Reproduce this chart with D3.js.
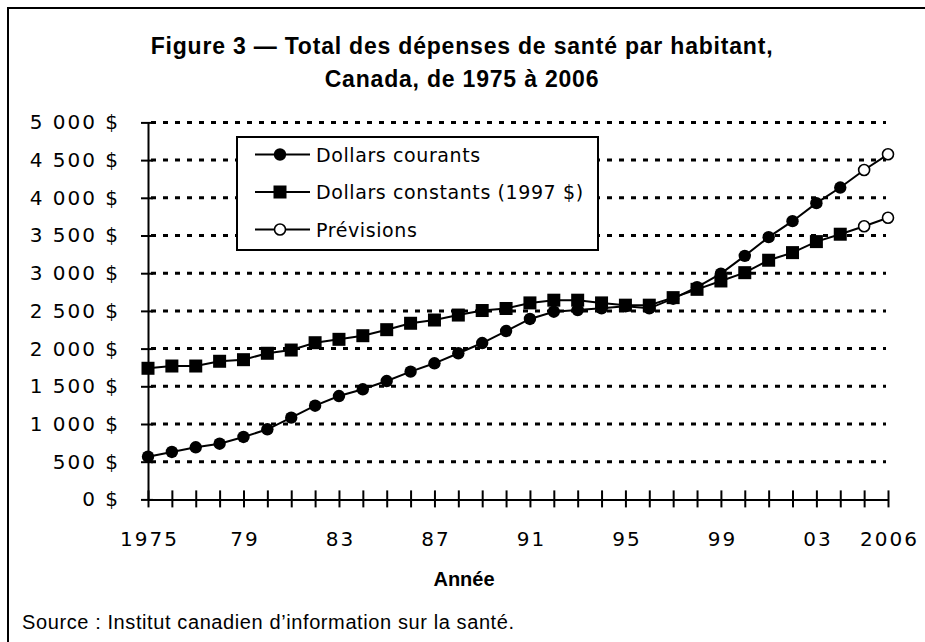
<!DOCTYPE html>
<html>
<head>
<meta charset="utf-8">
<script src="https://cdn.jsdelivr.net/npm/d3@7"></script>
<style>
  body { margin: 0; background: #fff; }
  .tickLabel { font-family: "DejaVu Sans", sans-serif; font-size: 20px; letter-spacing: 2px; fill: #000; }
  .legendText { font-family: "DejaVu Sans", sans-serif; font-size: 19px; letter-spacing: 0.6px; fill: #000; }
</style>
</head>
<body>
<svg id="chart" width="925" height="642"></svg>
<script>
// values
var years = [1975, 1976, 1977, 1978, 1979, 1980, 1981, 1982, 1983, 1984, 1985, 1986, 1987, 1988, 1989, 1990,
             1991, 1992, 1993, 1994, 1995, 1996, 1997, 1998, 1999, 2000, 2001, 2002, 2003, 2004, 2005, 2006];
var dollarsCourants = [566, 629, 691, 739, 828, 930, 1084, 1243, 1371, 1460, 1570, 1694, 1805, 1938, 2074, 2233,
                       2393, 2489, 2512, 2534, 2560, 2534, 2662, 2815, 2995, 3230, 3478, 3690, 3929, 4136, 4369, 4577];
var dollarsConstants = [1739, 1769, 1769, 1832, 1853, 1938, 1981, 2078, 2123, 2171, 2251, 2336, 2379, 2445, 2505, 2532,
                        2606, 2642, 2642, 2606, 2576, 2576, 2676, 2786, 2897, 3007, 3172, 3273, 3419, 3517, 3623, 3736];
var forecastYears = [2005, 2006];

var yTickValues = [0, 500, 1000, 1500, 2000, 2500, 3000, 3500, 4000, 4500, 5000];
var yTickLabels = ['0 $', '500 $', '1 000 $', '1 500 $', '2 000 $', '2 500 $', '3 000 $', '3 500 $', '4 000 $', '4 500 $', '5 000 $'];
var xLabelYears = [1975, 1979, 1983, 1987, 1991, 1995, 1999, 2003, 2006];
var xLabels = ['1975', '79', '83', '87', '91', '95', '99', '03', '2006'];

var legendLabels = ['Dollars courants', 'Dollars constants (1997 $)', 'Prévisions'];
var titleLines = ['Figure 3 \u2014 Total des dépenses de santé par habitant,', 'Canada, de 1975 à 2006'];

var svg = d3.select('#chart');

// outer frame (runs off the right/bottom of the picture)
svg.append('rect')
  .attr('x', 8).attr('y', 8)
  .attr('width', 1000).attr('height', 800)
  .style('fill', 'none').style('stroke', '#000').style('stroke-width', 2);

var x = d3.scaleLinear().domain([1975, 2006]).range([148, 888]);
var y = d3.scaleLinear().domain([0, 5000]).range([499.4, 122.4]);

// title
svg.selectAll('text.title')
  .data(titleLines)
  .enter().append('text')
    .attr('class', 'title')
    .attr('x', 462)
    .attr('y', function(d, i) { return 54 + i * 33; })
    .attr('text-anchor', 'middle')
    .style('font-family', '"Liberation Sans", Arial, sans-serif')
    .style('font-size', '23px')
    .style('font-weight', 'bold')
    .style('letter-spacing', '0.8px')
    .text(function(d) { return d; });

// dotted gridlines
svg.append('g').attr('id', 'grid')
  .selectAll('line')
  .data(yTickValues.filter(function(v) { return v > 0; }))
  .enter().append('line')
    .attr('x1', 151).attr('x2', 886)
    .attr('y1', function(d) { return y(d); })
    .attr('y2', function(d) { return y(d); })
    .style('stroke', '#000')
    .style('stroke-width', 3)
    .style('stroke-dasharray', '5,7');

// y axis
var yAxis = svg.append('g')
  .attr('transform', 'translate(148,0)')
  .call(d3.axisLeft(y)
    .tickValues(yTickValues)
    .tickSize(0)
    .tickPadding(28)
    .tickFormat(function(d, i) { return yTickLabels[i]; }));
yAxis.select('.domain').style('stroke', '#000').style('stroke-width', 2);
yAxis.selectAll('.tick line').attr('x1', 5).attr('x2', -7).style('stroke', '#000').style('stroke-width', 2);
yAxis.selectAll('.tick text').attr('class', 'tickLabel');
yAxis.attr('font-size', null).attr('font-family', null);

// x axis
var xAxis = svg.append('g')
  .attr('transform', 'translate(0,' + y(0) + ')')
  .call(d3.axisBottom(x)
    .tickValues(years)
    .tickSize(0)
    .tickSizeOuter(0)
    .tickFormat(function(d) {
      var k = xLabelYears.indexOf(d);
      return k < 0 ? '' : xLabels[k];
    }));
xAxis.select('.domain').style('stroke', '#000').style('stroke-width', 2);
xAxis.selectAll('.tick line').attr('y1', -9).attr('y2', 8).style('stroke', '#000').style('stroke-width', 2);
xAxis.selectAll('.tick text').attr('class', 'tickLabel').attr('y', 32).attr('dx', '1px');
xAxis.attr('font-size', null).attr('font-family', null);

// axis title
svg.append('text')
  .attr('x', 464).attr('y', 586)
  .attr('text-anchor', 'middle')
  .style('font-family', '"Liberation Sans", Arial, sans-serif')
  .style('font-size', '20px')
  .style('font-weight', 'bold')
  .text('Année');

// source note
svg.append('text')
  .attr('x', 22).attr('y', 629)
  .style('font-family', '"Liberation Sans", Arial, sans-serif')
  .style('font-size', '20px')
  .style('letter-spacing', '0.6px')
  .text('Source : Institut canadien d\u2019information sur la santé.');

// series
var line = d3.line()
  .x(function(d) { return x(d[0]); })
  .y(function(d) { return y(d[1]); });

var courants = years.map(function(yr, i) { return [yr, dollarsCourants[i]]; });
var constants = years.map(function(yr, i) { return [yr, dollarsConstants[i]]; });

var plot = svg.append('g').attr('id', 'plot');
[courants, constants].forEach(function(series) {
  plot.append('path')
    .attr('d', line(series))
    .style('fill', 'none')
    .style('stroke', '#000')
    .style('stroke-width', 2);
});

function isForecast(d) { return forecastYears.indexOf(d[0]) >= 0; }

plot.selectAll('rect.sq')
  .data(constants.filter(function(d) { return !isForecast(d); }))
  .enter().append('rect')
    .attr('class', 'sq')
    .attr('x', function(d) { return x(d[0]) - 6.5; })
    .attr('y', function(d) { return y(d[1]) - 6.5; })
    .attr('width', 13).attr('height', 13)
    .style('fill', '#000');

plot.selectAll('circle.dot')
  .data(courants.filter(function(d) { return !isForecast(d); }))
  .enter().append('circle')
    .attr('class', 'dot')
    .attr('cx', function(d) { return x(d[0]); })
    .attr('cy', function(d) { return y(d[1]); })
    .attr('r', 6.2)
    .style('fill', '#000');

plot.selectAll('circle.open')
  .data(courants.concat(constants).filter(isForecast))
  .enter().append('circle')
    .attr('class', 'open')
    .attr('cx', function(d) { return x(d[0]); })
    .attr('cy', function(d) { return y(d[1]); })
    .attr('r', 5.5)
    .style('fill', '#fff')
    .style('stroke', '#000')
    .style('stroke-width', 1.6);

// legend
var legend = svg.append('g').attr('id', 'legend');
legend.append('rect')
  .attr('x', 237).attr('y', 137)
  .attr('width', 361).attr('height', 113)
  .style('fill', '#fff')
  .style('stroke', '#000')
  .style('stroke-width', 2);

var rowY = [154.5, 192, 229.5];
legendLabels.forEach(function(label, i) {
  var g = legend.append('g');
  g.append('line')
    .attr('x1', 255).attr('x2', 310)
    .attr('y1', rowY[i]).attr('y2', rowY[i])
    .style('stroke', '#000').style('stroke-width', 2);
  if (i == 0) {
    g.append('circle').attr('cx', 280).attr('cy', rowY[i]).attr('r', 6.2).style('fill', '#000');
  } else if (i == 1) {
    g.append('rect').attr('x', 273.5).attr('y', rowY[i] - 6.5).attr('width', 13).attr('height', 13).style('fill', '#000');
  } else {
    g.append('circle').attr('cx', 280).attr('cy', rowY[i]).attr('r', 5.5)
      .style('fill', '#fff').style('stroke', '#000').style('stroke-width', 1.6);
  }
  g.append('text')
    .attr('class', 'legendText')
    .attr('x', 316)
    .attr('y', rowY[i] + 7)
    .text(label);
});
</script>
</body>
</html>
